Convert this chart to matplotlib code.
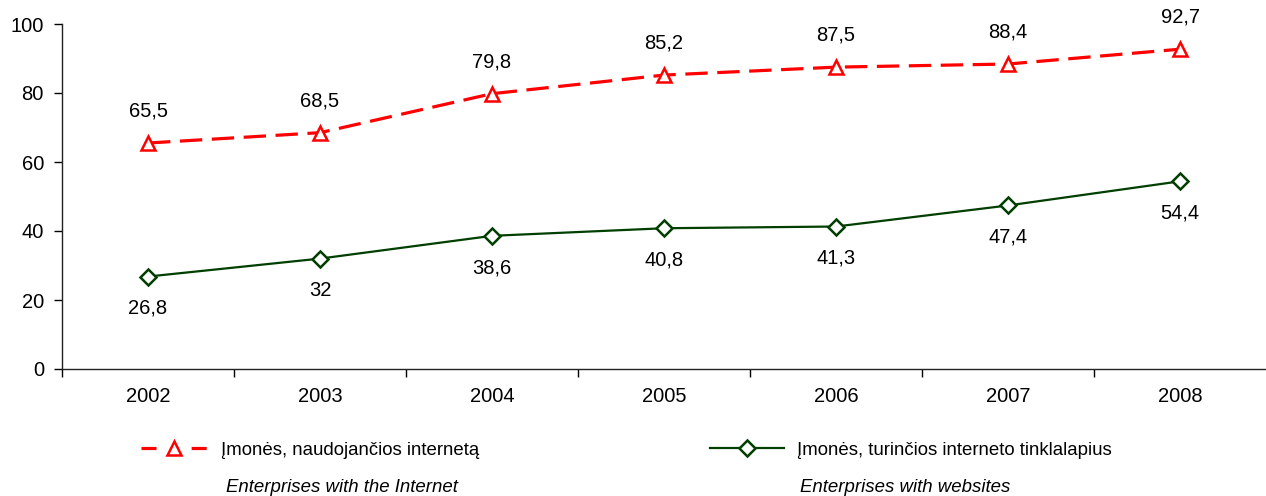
import numpy as np
import matplotlib
matplotlib.use('Agg')
import matplotlib.pyplot as plt
from matplotlib.lines import Line2D

plt.rcParams['font.family'] = ['Liberation Sans', 'DejaVu Sans']

# duomenys
years = ['2002', '2003', '2004', '2005', '2006', '2007', '2008']
internet = [65.5, 68.5, 79.8, 85.2, 87.5, 88.4, 92.7]
websites = [26.8, 32, 38.6, 40.8, 41.3, 47.4, 54.4]

lab_internet = 'Įmonės, naudojančios internetą'
lab_websites = 'Įmonės, turinčios interneto tinklalapius'
en_internet = 'Enterprises with the Internet'
en_websites = 'Enterprises with websites'

RED = '#ff0000'
GREEN = '#003f00'
FS = 14.5
FS_LEG = 13.4


def fmt(v):
    return ('%g' % v).replace('.', ',')


fig = plt.figure(figsize=(12.66, 4.96), dpi=100)
ax = fig.add_axes([62/1266, 1-369/496, 1-62/1266, (369-24)/496])

x = np.arange(len(years))

ax.plot(x, internet, color=RED, lw=2.3, ls=(0, (7, 3)), marker='^', ms=10,
        mfc='white', mec=RED, mew=1.8, zorder=3)
ax.plot(x, websites, color=GREEN, lw=1.6, ls='-', marker='D', ms=8,
        mfc='white', mec=GREEN, mew=1.8, zorder=3)

for xi, v in zip(x, internet):
    ax.annotate(fmt(v), (xi, v), xytext=(0, 23), textcoords='offset points',
                ha='center', va='center', fontsize=FS)
for xi, v in zip(x, websites):
    ax.annotate(fmt(v), (xi, v), xytext=(0, -23), textcoords='offset points',
                ha='center', va='center', fontsize=FS)

ax.set_xlim(-0.5, 6.5)
ax.set_ylim(0, 100)
ax.set_yticks(range(0, 101, 20))
ax.set_xticks(x)
ax.set_xticklabels(years)
ax.set_xticks(np.arange(-0.5, 6.5, 1), minor=True)
ax.tick_params(axis='x', which='major', length=0, pad=13, labelsize=FS)
ax.tick_params(axis='x', which='minor', length=6, width=1, direction='out')
ax.tick_params(axis='y', length=6, width=1, direction='out', pad=7, labelsize=FS)

for s in ['top', 'right']:
    ax.spines[s].set_visible(False)
for s in ['left', 'bottom']:
    ax.spines[s].set_linewidth(1)
    ax.spines[s].set_color('#222222')

# legenda
h1 = Line2D([], [], color=RED, lw=2.3, ls=(0, (4.7, 11)), marker='^', ms=10,
            mfc='white', mec=RED, mew=1.8)
h2 = Line2D([], [], color=GREEN, lw=1.6, marker='D', ms=8,
            mfc='white', mec=GREEN, mew=1.8)

leg1 = fig.legend([h1], [lab_internet], loc='center left',
                  bbox_to_anchor=(124/1266, 1-450/496), frameon=False,
                  fontsize=FS_LEG, handlelength=3.6, handletextpad=0.7)
leg2 = fig.legend([h2], [lab_websites], loc='center left',
                  bbox_to_anchor=(693/1266, 1-450/496), frameon=False,
                  fontsize=FS_LEG, handlelength=4.0, handletextpad=0.7)

fig.text(226/1266, 1-487/496, en_internet, fontsize=FS_LEG, style='italic',
         ha='left', va='center')
fig.text(800/1266, 1-487/496, en_websites, fontsize=FS_LEG, style='italic',
         ha='left', va='center')

plt.savefig('out.png', dpi=100)
plt.close()
